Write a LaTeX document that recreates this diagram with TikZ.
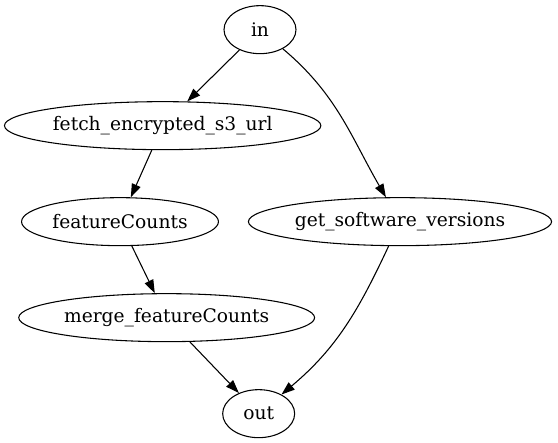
\documentclass[tikz,border=0pt]{standalone}
\usepackage{fontspec}
\setmainfont{DejaVu Serif}
\usetikzlibrary{arrows.meta,shapes.geometric}
\tikzset{
  proc/.style={draw,ellipse,line width=0.8pt,minimum width=54pt,minimum height=36pt,
    inner xsep=1.5pt,inner ysep=0pt,font=\fontsize{14}{16}\selectfont},
  flow/.style={line width=0.8pt,-{Triangle[length=10pt,width=7pt]}}
}
\begin{document}
\begin{tikzpicture}[x=1pt,y=1pt]
  \useasboundingbox (0,0) rectangle (418.5,332.25);
  \node[proc] (in) at (195,310) {in};
  \node[proc] (fetch) at (122,238) {fetch\_encrypted\_s3\_url};
  \node[proc] (counts) at (90,166) {featureCounts};
  \node[proc] (versions) at (300,166) {get\_software\_versions};
  \node[proc] (merge) at (125,94) {merge\_featureCounts};
  \node[proc] (out) at (194,22) {out};
  \draw[flow] (in) -- (fetch);
  \draw[flow] (in) to[out=-40,in=120] (versions);
  \draw[flow] (fetch) -- (counts);
  \draw[flow] (counts) -- (merge);
  \draw[flow] (merge) -- (out);
  \draw[flow] (versions) to[out=-115,in=40] (out);
\end{tikzpicture}
\end{document}
